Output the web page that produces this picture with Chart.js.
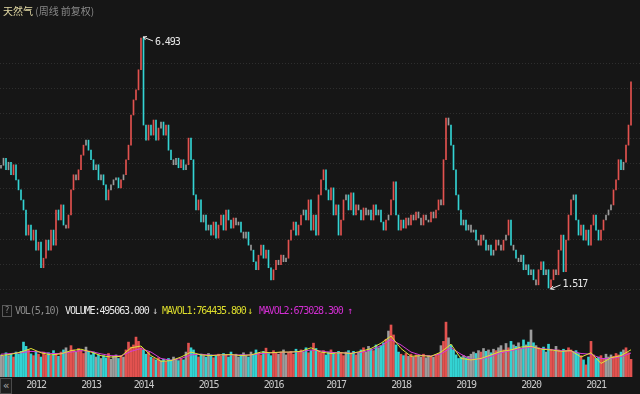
<!DOCTYPE html>
<html>
<head>
<meta charset="utf-8">
<script src="https://cdn.jsdelivr.net/npm/chart.js@4.4.1/dist/chart.umd.min.js"></script>
<style>
  html, body { margin: 0; padding: 0; background: #161616; }
  #wrap { position: relative; width: 640px; height: 394px; overflow: hidden; background: #161616; }
  #priceChart { position: absolute; left: 0; top: 0; }
  #volChart { position: absolute; left: 0; top: 300px; }
  .mono { position: absolute; white-space: nowrap; font-family: 'DejaVu Sans Mono', monospace;
          font-size: 10px; letter-spacing: -1.1px; line-height: 12px; top: 305px; }
  #title { position: absolute; left: 3px; top: 4px; white-space: nowrap;
           font-family: 'Noto Sans CJK SC', sans-serif; font-size: 10px; line-height: 13px; }
  #qbox { position: absolute; left: 2px; top: 305px; width: 8px; height: 10px; border: 1px solid #5a5a5a;
          color: #8a8a8a; font-family: 'DejaVu Sans', sans-serif; font-size: 8px; line-height: 10px; text-align: center; }
  #back { position: absolute; left: 0; top: 378px; width: 10px; height: 14px; border: 1px solid #4a4a4a;
          background: #1d1d1d; color: #a8a8a8; font-family: 'DejaVu Sans', sans-serif; font-size: 11px;
          line-height: 13px; text-align: center; }
</style>
</head>
<body>
<div id="wrap">
  <canvas id="priceChart" width="640" height="300"></canvas>
  <canvas id="volChart" width="640" height="94"></canvas>
  <div id="title"><span style="color:#e4dba6">天然气</span> <span style="color:#8a8a8a">(周线 前复权)</span></div>
  <div id="qbox">?</div>
  <span class="mono" style="left:15px;color:#8c8c8c">VOL(5,10)</span>
  <span class="mono" style="left:65px;color:#e8e8e8">VOLUME:495063.000</span>
  <span class="mono" style="left:152px;color:#d0d0d0">↓</span>
  <span class="mono" style="left:162px;color:#dcdc2c">MAVOL1:764435.800</span>
  <span class="mono" style="left:247px;color:#dcdc2c">↓</span>
  <span class="mono" style="left:259px;color:#d22ed2">MAVOL2:673028.300</span>
  <span class="mono" style="left:347px;color:#d22ed2">↑</span>
  <div id="back">«</div>
</div>
<script>
// 周线收盘价 (每根约两周), 前复权
const firstOpen = 3.90;
const closes = [
  3.96, 4.10, 3.87, 4.02, 3.77, 3.97, 3.67, 3.47, 3.27, 3.07,
  2.57, 2.77, 2.47, 2.67, 2.27, 2.43, 1.92, 2.11, 2.47, 2.27,
  2.67, 2.37, 3.07, 2.87, 3.17, 2.77, 2.71, 2.97, 3.47, 3.77,
  3.67, 3.87, 4.16, 4.36, 4.46, 4.26, 4.07, 3.87, 3.97, 3.67,
  3.77, 3.57, 3.27, 3.47, 3.57, 3.67, 3.71, 3.51, 3.67, 3.77,
  4.07, 4.36, 4.96, 5.26, 5.46, 5.86, 6.493, 4.76, 4.46, 4.76,
  4.56, 4.86, 4.46, 4.70, 4.82, 4.56, 4.76, 4.26, 4.07, 3.97,
  4.10, 3.91, 4.07, 3.87, 3.97, 4.50, 4.07, 3.37, 3.07, 3.27,
  2.83, 2.97, 2.67, 2.77, 2.57, 2.83, 2.51, 2.77, 2.97, 2.67,
  3.07, 2.87, 2.71, 2.91, 2.77, 2.83, 2.63, 2.51, 2.63, 2.37,
  2.27, 2.04, 1.88, 2.17, 2.37, 2.11, 2.27, 1.92, 1.68, 1.88,
  2.07, 1.98, 2.17, 2.04, 2.11, 2.47, 2.67, 2.83, 2.57, 2.77,
  2.97, 3.07, 2.87, 3.27, 2.67, 2.97, 2.57, 3.37, 3.67, 3.87,
  3.47, 3.27, 3.51, 2.97, 3.17, 2.57, 2.87, 3.27, 3.37, 3.07,
  3.41, 2.97, 3.17, 3.07, 2.87, 3.11, 2.97, 3.07, 2.87, 3.17,
  2.97, 3.07, 2.83, 2.67, 2.87, 2.97, 3.27, 3.63, 2.97, 2.67,
  2.87, 2.71, 2.91, 2.77, 2.97, 2.87, 3.03, 2.91, 2.77, 2.97,
  2.87, 2.83, 3.03, 2.91, 3.07, 3.27, 3.17, 4.07, 4.90, 4.76,
  4.36, 3.87, 3.37, 3.07, 2.77, 2.87, 2.67, 2.77, 2.63, 2.67,
  2.47, 2.37, 2.57, 2.47, 2.27, 2.37, 2.17, 2.27, 2.47, 2.37,
  2.27, 2.47, 2.57, 2.87, 2.37, 2.27, 2.11, 2.04, 2.17, 1.88,
  1.98, 1.78, 1.88, 1.68, 1.58, 1.88, 2.04, 1.78, 1.88, 1.517,
  1.68, 1.88, 1.78, 2.27, 2.57, 1.84, 2.47, 2.97, 3.27, 3.37,
  2.87, 2.57, 2.77, 2.47, 2.67, 2.37, 2.77, 2.97, 2.67, 2.47,
  2.67, 2.87, 2.97, 3.07, 3.17, 3.47, 3.67, 4.07, 3.87, 4.02,
  4.36, 4.76, 5.62
];

// 成交量 (千手)
const volumes = [
  620, 580, 680, 600, 650, 560, 700, 640, 720, 980,
  860, 760, 650, 600, 720, 640, 560, 700, 620, 680,
  600, 740, 660, 580, 700, 760, 820, 700, 880, 760,
  700, 800, 740, 660, 840, 720, 620, 700, 560, 620,
  520, 600, 540, 660, 500, 580, 620, 520, 600, 560,
  760, 980, 840, 900, 1120, 1000, 820, 760, 640, 700,
  560, 520, 480, 540, 460, 500, 440, 520, 480, 560,
  500, 460, 520, 480, 700, 950, 820, 760, 620, 560,
  640, 600, 560, 660, 620, 540, 600, 640, 580, 660,
  620, 560, 700, 600, 640, 560, 620, 680, 600, 560,
  700, 640, 760, 680, 620, 720, 810, 660, 600, 740,
  680, 640, 700, 760, 620, 680, 720, 640, 780, 700,
  760, 700, 820, 680, 740, 950, 800, 720, 680, 740,
  620, 700, 760, 660, 640, 720, 680, 600, 700, 740,
  660, 720, 620, 680, 760, 820, 700, 860, 780, 740,
  900, 820, 880, 960, 1060, 1290, 1460, 1180, 900, 700,
  640, 600, 660, 580, 640, 560, 620, 600, 560, 640,
  540, 600, 580, 560, 620, 660, 880, 1000, 1540, 1100,
  900, 760, 620, 520, 560, 600, 540, 580, 640, 700,
  660, 740, 700, 800, 720, 760, 680, 780, 740, 820,
  880, 760, 940, 820, 1000, 900, 860, 960, 800, 1040,
  900, 980, 1320, 960, 880, 820, 760, 840, 700, 920,
  780, 720, 860, 760, 700, 780, 740, 820, 760, 700,
  740, 660, 600, 480, 340, 560, 1000, 620, 520, 560,
  600, 520, 640, 560, 620, 580, 660, 620, 700, 760,
  820, 680, 495
];

// MAVOL 线, 每 4 根取一个点
const maStep = 4;
const maVol1 = [
  600, 640, 700, 800, 680, 620, 650, 740, 780, 700,
  600, 560, 580, 820, 870, 600, 440, 460, 560, 700,
  620, 600, 620, 630, 600, 620, 700, 680, 700, 700,
  720, 820, 700, 660, 680, 660, 720, 800, 950, 1150,
  800, 580, 600, 580, 700, 920, 520, 480, 520, 620,
  720, 760, 840, 860, 780, 760, 720, 740, 560, 680,
  380, 540, 600, 764
];
const maVol2 = [
  640, 660, 680, 720, 700, 660, 660, 700, 740, 720,
  650, 600, 590, 720, 800, 700, 520, 470, 520, 620,
  640, 610, 620, 620, 620, 620, 660, 680, 690, 700,
  710, 760, 730, 690, 680, 670, 690, 760, 880, 1050,
  900, 700, 610, 590, 650, 820, 640, 500, 500, 580,
  680, 740, 800, 840, 800, 770, 740, 730, 660, 640,
  520, 520, 570, 673
];

// 年份刻度
const yearTicks = [14, 36, 57, 83, 109, 134, 160, 186, 212, 238];
const yearLabels = ['2012', '2013', '2014', '2015', '2016', '2017', '2018', '2019', '2020', '2021'];
const gridValues = [1.5, 2.0, 2.5, 3.0, 3.5, 4.0, 4.5, 5.0, 5.5, 6.0];

const RED = '#e2524f', CYAN = '#33d3d3', GRAY = '#9c9c9c';

const opens = closes.map((c, i) => i === 0 ? firstOpen : closes[i - 1]);
const candleColors = closes.map((c, i) => {
    const d = c - opens[i];
    if (Math.abs(d) < 0.15) return GRAY;
    return d > 0 ? RED : CYAN;
});

const xMin = -0.4, xMax = 255.6;

// 虚线网格
const gridPlugin = {
    id: 'priceGrid',
    beforeDatasetsDraw(chart) {
        const { ctx, chartArea, scales } = chart;
        ctx.save();
        ctx.strokeStyle = '#2e2e2e';
        ctx.lineWidth = 1;
        ctx.setLineDash([1, 2]);
        gridValues.forEach(v => {
            const py = Math.round(scales.y.getPixelForValue(v)) + 0.5;
            ctx.beginPath();
            ctx.moveTo(chartArea.left, py);
            ctx.lineTo(chartArea.right, py);
            ctx.stroke();
        });
        ctx.restore();
    }
};

function drawMark(ctx, px, py, dir, text) {
    // dir = 1 往下标注, -1 往上
    const tx = px + 2, ty = py + (dir > 0 ? -1 : 1);
    const ex = px + 12, ey = ty + dir * 4;
    ctx.strokeStyle = '#e8e8e8';
    ctx.lineWidth = 1;
    ctx.beginPath();
    ctx.moveTo(tx, ty);
    ctx.lineTo(ex, ey);
    const ang = Math.atan2(ey - ty, ex - tx);
    ctx.moveTo(tx, ty);
    ctx.lineTo(tx + 4 * Math.cos(ang - 0.5), ty + 4 * Math.sin(ang - 0.5));
    ctx.moveTo(tx, ty);
    ctx.lineTo(tx + 4 * Math.cos(ang + 0.5), ty + 4 * Math.sin(ang + 0.5));
    ctx.stroke();
    ctx.fillStyle = '#e8e8e8';
    ctx.font = '10px "DejaVu Sans Mono", monospace';
    ctx.letterSpacing = '-1.1px';
    ctx.textAlign = 'left';
    ctx.textBaseline = 'middle';
    ctx.fillText(text, ex + 2, ey + dir);
}

// 最高/最低标注
const markPlugin = {
    id: 'hiLoMark',
    afterDatasetsDraw(chart) {
        const { ctx, scales } = chart;
        let hi = 0, lo = 0;
        closes.forEach((c, i) => {
            if (c > closes[hi]) hi = i;
            if (c < closes[lo]) lo = i;
        });
        ctx.save();
        drawMark(ctx, scales.x.getPixelForValue(hi), scales.y.getPixelForValue(closes[hi]), 1, closes[hi].toFixed(3));
        drawMark(ctx, scales.x.getPixelForValue(lo), scales.y.getPixelForValue(closes[lo]), -1, closes[lo].toFixed(3));
        ctx.restore();
    }
};

const yearPlugin = {
    id: 'yearLabels',
    afterDraw(chart) {
        const { ctx, scales } = chart;
        ctx.save();
        ctx.fillStyle = '#c8c8c8';
        ctx.font = '10px "DejaVu Sans Mono", monospace';
        ctx.letterSpacing = '-1.1px';
        ctx.textAlign = 'center';
        ctx.textBaseline = 'middle';
        yearTicks.forEach((t, k) => {
            ctx.fillText(yearLabels[k], scales.x.getPixelForValue(t), 85);
        });
        ctx.restore();
    }
};

new Chart(document.getElementById('priceChart'), {
    type: 'bar',
    data: {
        datasets: [{
            data: closes.map((c, i) => ({ x: i, y: [opens[i], c] })),
            backgroundColor: candleColors,
            barThickness: 1,
            minBarLength: 1
        }]
    },
    options: {
        responsive: false,
        animation: false,
        layout: { padding: 0 },
        plugins: { legend: { display: false }, tooltip: { enabled: false } },
        scales: {
            x: { type: 'linear', display: false, min: xMin, max: xMax, offset: false },
            y: { display: false, min: 1.278, max: 7.249 }
        }
    },
    plugins: [gridPlugin, markPlugin]
});

new Chart(document.getElementById('volChart'), {
    type: 'bar',
    data: {
        datasets: [
            {
                type: 'line',
                data: maVol1.map((v, k) => ({ x: k * maStep, y: v })),
                borderColor: '#e2e236',
                borderWidth: 1,
                pointRadius: 0,
                order: 0
            },
            {
                type: 'line',
                data: maVol2.map((v, k) => ({ x: k * maStep, y: v })),
                borderColor: '#d63ad6',
                borderWidth: 1,
                pointRadius: 0,
                order: 1
            },
            {
                type: 'bar',
                data: volumes.map((v, i) => ({ x: i, y: v })),
                backgroundColor: candleColors,
                barThickness: 2,
                order: 2
            }
        ]
    },
    options: {
        responsive: false,
        animation: false,
        layout: { padding: { top: 20, bottom: 17, left: 0, right: 0 } },
        plugins: { legend: { display: false }, tooltip: { enabled: false } },
        scales: {
            x: { type: 'linear', display: false, min: xMin, max: xMax, offset: false },
            y: { display: false, min: 0, max: 1600 }
        }
    },
    plugins: [yearPlugin]
});
</script>
</body>
</html>
